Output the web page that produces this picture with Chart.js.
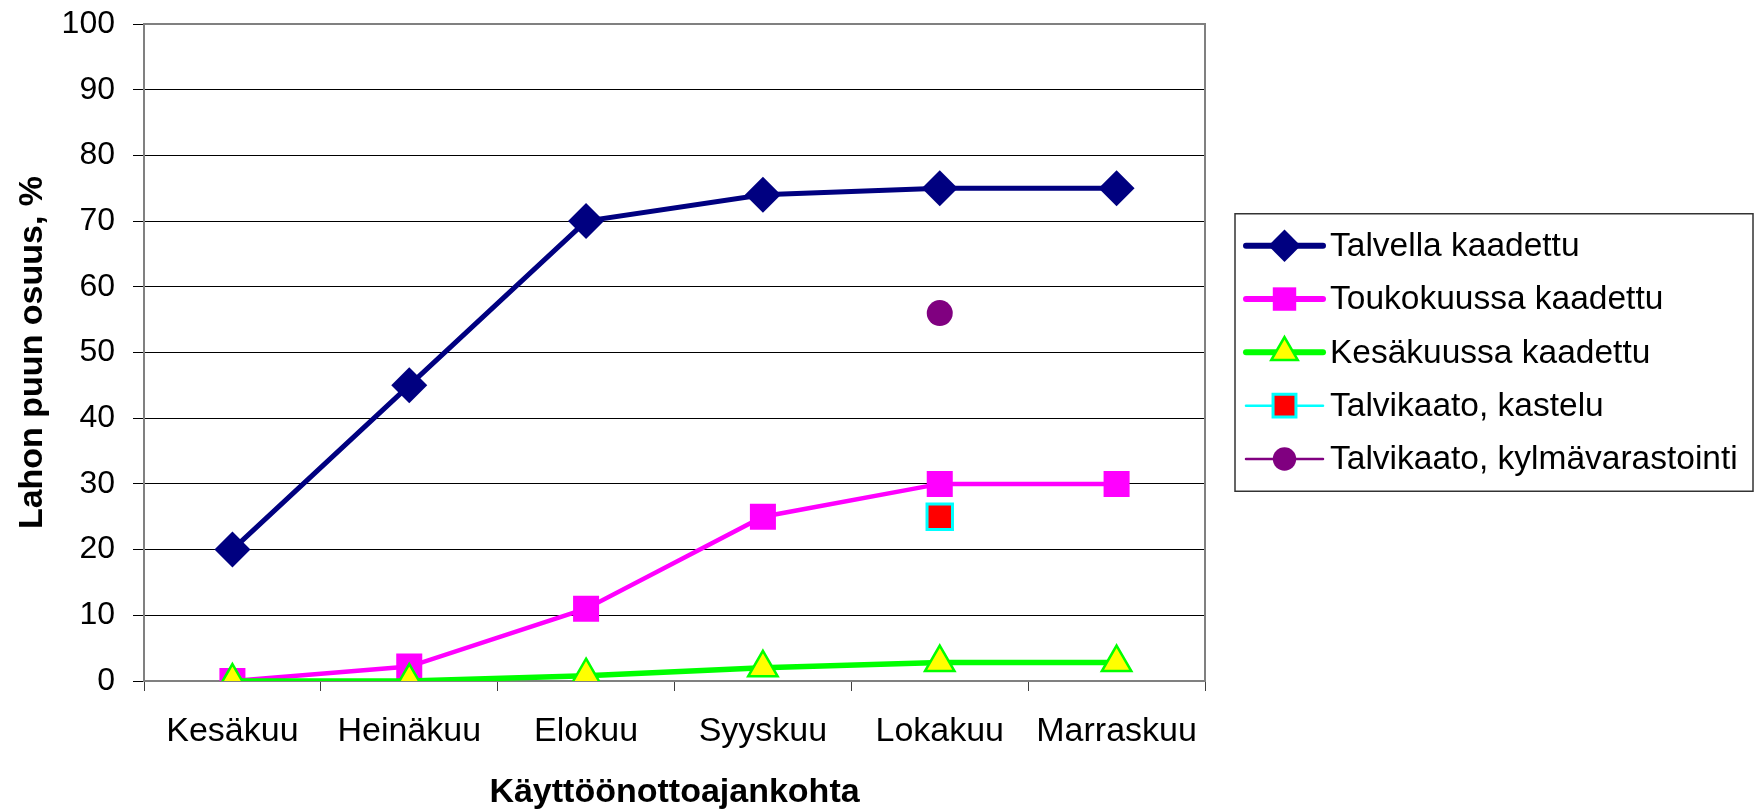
<!DOCTYPE html>
<html>
<head>
<meta charset="utf-8">
<script src="https://cdn.jsdelivr.net/npm/chart.js@4"></script>
<style>
  html, body { margin: 0; padding: 0; background: #fff; }
  canvas { display: block; background: #fff; }
</style>
</head>
<body>
<canvas id="myChart" width="1763" height="810"></canvas>
<script>
// values
var months = ['Kesäkuu', 'Heinäkuu', 'Elokuu', 'Syyskuu', 'Lokakuu', 'Marraskuu'];
var talvella = [20, 45, 70, 74, 75, 75];
var toukokuussa = [0, 2.2, 11, 25, 30, 30];
var kesakuussa = [0, 0, 0.8, 2, 2.8, 2.8];
var kastelu = [null, null, null, null, 25, null];
var kylmavarastointi = [null, null, null, null, 56, null];
var seriesNames = ['Talvella kaadettu', 'Toukokuussa kaadettu', 'Kesäkuussa kaadettu',
                   'Talvikaato, kastelu', 'Talvikaato, kylmävarastointi'];

var FONT = "'Liberation Sans', Arial, sans-serif";

var datasets = [
  { label: seriesNames[0], data: talvella, borderColor: '#000080', borderWidth: 5,
    pointStyle: 'rectRot', pointRadius: 18, pointBackgroundColor: '#000080',
    pointBorderColor: '#000080', pointBorderWidth: 0, legendLine: 6, order: 5 },
  { label: seriesNames[1], data: toukokuussa, borderColor: '#FF00FF', borderWidth: 4.5,
    pointStyle: 'rect', pointRadius: 18.4, pointBackgroundColor: '#FF00FF',
    pointBorderColor: '#FF00FF', pointBorderWidth: 0, legendLine: 6, order: 4 },
  { label: seriesNames[2], data: kesakuussa, borderColor: '#00FF00', borderWidth: 5.5,
    pointStyle: 'triangle', pointRadius: 17, pointBackgroundColor: '#FFFF00',
    pointBorderColor: '#00FF00', pointBorderWidth: 2.5, legendLine: 6, order: 3 },
  { label: seriesNames[3], data: kastelu, borderColor: '#00FFFF', borderWidth: 2,
    pointStyle: 'rect', pointRadius: 18, pointBackgroundColor: '#FF0000',
    pointBorderColor: '#00FFFF', pointBorderWidth: 3, legendLine: 2.5, order: 2 },
  { label: seriesNames[4], data: kylmavarastointi, borderColor: '#800080', borderWidth: 2,
    pointStyle: 'circle', pointRadius: 13, pointBackgroundColor: '#800080',
    pointBorderColor: '#800080', pointBorderWidth: 0, legendLine: 2.5, order: 1 }
];
datasets.forEach(function (ds) {
  ds.tension = 0;
  ds.fill = false;
  ds.pointHoverRadius = ds.pointRadius;
});

// plot frame (top/right) and an Excel-like legend box to the right of the plot
var frames = {
  id: 'frames',
  beforeDatasetsDraw: function (chart) {
    var a = chart.chartArea, ctx = chart.ctx;
    ctx.save();
    ctx.strokeStyle = '#808080';
    ctx.lineWidth = 2;
    ctx.beginPath();
    ctx.moveTo(a.left, a.top);
    ctx.lineTo(a.right, a.top);
    ctx.lineTo(a.right, a.bottom);
    ctx.stroke();
    ctx.restore();
  },
  afterDraw: function (chart) {
    var a = chart.chartArea, ctx = chart.ctx;
    var sets = chart.data.datasets;
    var rowH = 53.3;
    var boxH = rowH * sets.length + 11;
    var left = a.right + 30, right = chart.width - 10;
    var top = (a.top + a.bottom) / 2 - boxH / 2;
    ctx.save();
    ctx.strokeStyle = '#333';
    ctx.lineWidth = 1.5;
    ctx.strokeRect(left, top, right - left, boxH);
    sets.forEach(function (ds, i) {
      var cy = top + 32 + i * rowH;
      var sx = left + 11, cx = sx + 38.5;
      ctx.strokeStyle = ds.borderColor;
      ctx.lineWidth = ds.legendLine;
      ctx.lineCap = 'round';
      ctx.beginPath(); ctx.moveTo(sx, cy); ctx.lineTo(sx + 77, cy); ctx.stroke();
      ctx.fillStyle = ds.pointBackgroundColor;
      ctx.strokeStyle = ds.pointBorderColor;
      ctx.lineWidth = ds.pointBorderWidth;
      Chart.helpers.drawPoint(ctx, { pointStyle: ds.pointStyle, radius: ds.pointRadius * 0.9,
        borderWidth: ds.pointBorderWidth, rotation: 0 }, cx, cy);
      ctx.fillStyle = '#000';
      ctx.font = '33.5px ' + FONT;
      ctx.textBaseline = 'middle';
      ctx.textAlign = 'left';
      ctx.fillText(ds.label, left + 95, cy + 1);
    });
    ctx.restore();
  }
};

var ctx = document.getElementById('myChart').getContext('2d');

var myLineChart = new Chart(ctx, {
  type: 'line',
  data: { labels: months, datasets: datasets },
  plugins: [frames],
  options: {
    responsive: false,
    animation: false,
    layout: { padding: { left: 8, right: 558, top: 24, bottom: 0 } },
    plugins: {
      tooltip: { enabled: false },
      legend: { display: false }
    },
    scales: {
      x: {
        type: 'category',
        offset: true,
        grid: { offset: true, drawOnChartArea: false, drawTicks: true, tickLength: 10, color: '#404040' },
        border: { color: '#808080', width: 2 },
        ticks: { color: '#000', padding: 20, maxRotation: 0, font: { family: FONT, size: 34 } },
        title: {
          display: true, text: 'Käyttöönottoajankohta', color: '#000',
          padding: { top: 0, bottom: 0 },
          font: { family: FONT, size: 34, weight: 'bold', lineHeight: 1.0 }
        },
        afterFit: function (s) { s.height = 129; }
      },
      y: {
        min: 0, max: 100,
        grid: { color: '#000', lineWidth: 1, tickLength: 11, tickColor: '#000' },
        border: { color: '#808080', width: 2 },
        // small lineHeight keeps the top label from pushing the plot down
        ticks: { stepSize: 10, color: '#000', padding: 18, font: { family: FONT, size: 32, lineHeight: 0.3 } },
        title: {
          display: true, text: 'Lahon puun osuus, %', color: '#000',
          padding: { top: 4, bottom: 0 },
          font: { family: FONT, size: 34, weight: 'bold' }
        },
        afterFit: function (s) { s.width = 136; }
      }
    }
  }
});
</script>
</body>
</html>
